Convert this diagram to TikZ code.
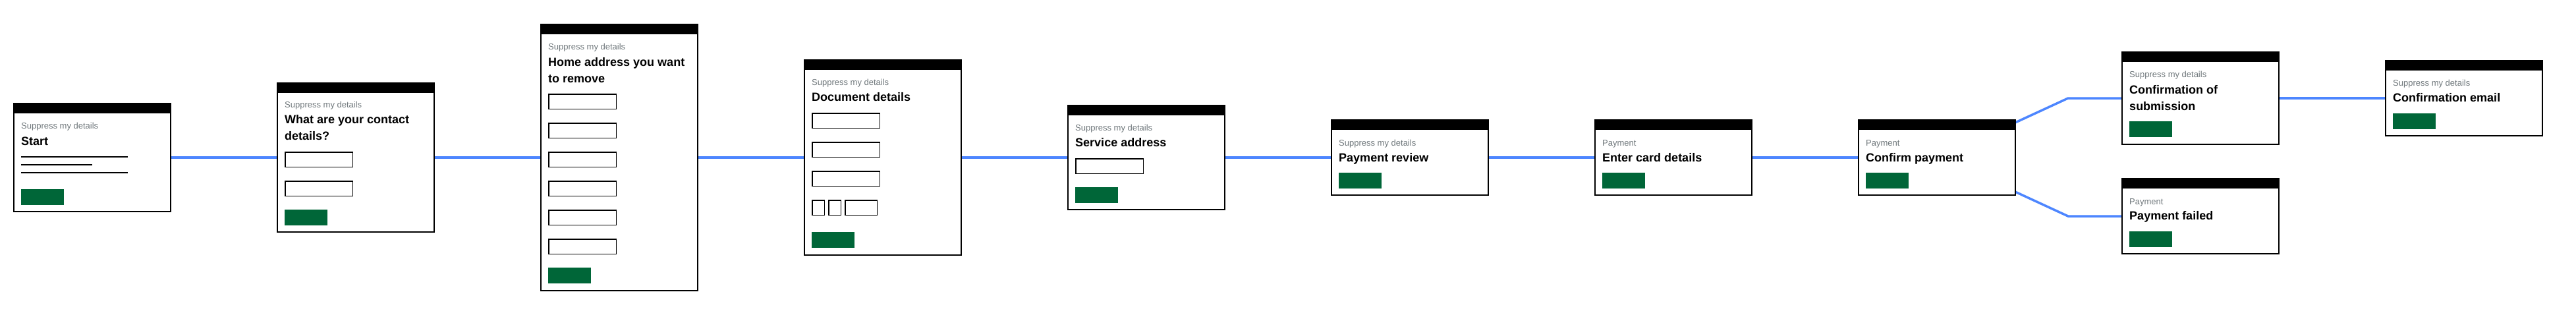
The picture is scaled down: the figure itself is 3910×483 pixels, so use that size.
\documentclass[tikz,border=0pt]{standalone}
\usepackage{fontspec}
\setmainfont{Liberation Sans}
\usetikzlibrary{backgrounds}
\definecolor{govgreen}{RGB}{0,102,56}
\definecolor{flowblue}{RGB}{77,134,255}
\definecolor{greytext}{RGB}{111,119,123}
% #1 name, #2 left x, #3 top y, #4 bottom y
\newcommand{\mkscreen}[4]{%
  \node[screen, minimum height={#4-#3-1.7}] (#1) at ({#2+120},{(#3+#4)/2}) {};
  \fill ({#2},{#3}) rectangle ({#2+240},{#3+16});
}
% #1 name, #2 x, #3 baseline, #4 text
\newcommand{\mkcat}[4]{\node[cat] (#1) at ({#2+12},#3) {#4};}
\newcommand{\mkttl}[4]{\node[ttl] (#1) at ({#2+12},#3) {#4};}
% #1 x, #2 top y
\newcommand{\mkfield}[2]{\draw[field] ({#1+12.75},{#2+0.75}) rectangle ({#1+115.25},{#2+23.25});}
\newcommand{\mkbtn}[2]{\fill[govgreen] ({#1+12},#2) rectangle ({#1+77},{#2+24});}
\begin{document}
\begin{tikzpicture}[x=1pt,y=-1pt,
  screen/.style={draw=black, line width=1.7pt, fill=white, minimum width=238.3pt, inner sep=0pt, outer sep=0pt},
  cat/.style={anchor=base west, inner sep=0pt, text=greytext, font=\fontsize{13}{15}\selectfont},
  ttl/.style={anchor=base west, inner sep=0pt, text=black, font=\bfseries\fontsize{18}{22}\selectfont},
  field/.style={draw=black, line width=1.5pt},
  conn/.style={draw=flowblue, line width=3.5pt}]
\useasboundingbox (0,0) rectangle (3910,483);

% Screen 1: Start
\mkscreen{s1}{20}{156}{322}
\mkcat{s1c}{20}{195}{Suppress my details}
\mkttl{s1t}{20}{220}{Start}
\draw[line width=1.7pt] (32,238) -- (194,238);
\draw[line width=1.7pt] (32,250) -- (140,250);
\draw[line width=1.7pt] (32,262) -- (194,262);
\mkbtn{20}{287}

% Screen 2: contact details
\mkscreen{s2}{420}{125}{353}
\mkcat{s2c}{420}{163}{Suppress my details}
\mkttl{s2t}{420}{187}{What are your contact}
\mkttl{s2u}{420}{212}{details?}
\mkfield{420}{230}
\mkfield{420}{274}
\mkbtn{420}{318}

% Screen 3: home address
\mkscreen{s3}{820}{36}{442}
\mkcat{s3c}{820}{75}{Suppress my details}
\mkttl{s3t}{820}{100}{Home address you want}
\mkttl{s3u}{820}{125}{to remove}
\foreach \k in {0,...,5} {\mkfield{820}{142+44*\k}}
\mkbtn{820}{406}

% Screen 4: document details
\mkscreen{s4}{1220}{90}{388}
\mkcat{s4c}{1220}{129}{Suppress my details}
\mkttl{s4t}{1220}{153}{Document details}
\mkfield{1220}{171}
\mkfield{1220}{215}
\mkfield{1220}{259}
\draw[field] (1232.75,303.75) rectangle (1251.25,326.25);
\draw[field] (1257.75,303.75) rectangle (1276.25,326.25);
\draw[field] (1282.75,303.75) rectangle (1331.25,326.25);
\mkbtn{1220}{352}

% Screen 5: service address
\mkscreen{s5}{1620}{159}{319}
\mkcat{s5c}{1620}{198}{Suppress my details}
\mkttl{s5t}{1620}{222}{Service address}
\mkfield{1620}{240}
\mkbtn{1620}{284}

% Screen 6: payment review
\mkscreen{s6}{2020}{181}{297}
\mkcat{s6c}{2020}{221}{Suppress my details}
\mkttl{s6t}{2020}{245}{Payment review}
\mkbtn{2020}{262}

% Screen 7: enter card details
\mkscreen{s7}{2420}{181}{297}
\mkcat{s7c}{2420}{221}{Payment}
\mkttl{s7t}{2420}{245}{Enter card details}
\mkbtn{2420}{262}

% Screen 8: confirm payment
\mkscreen{s8}{2820}{181}{297}
\mkcat{s8c}{2820}{221}{Payment}
\mkttl{s8t}{2820}{245}{Confirm payment}
\mkbtn{2820}{262}

% Screen 9: confirmation of submission
\mkscreen{s9}{3220}{78}{220}
\mkcat{s9c}{3220}{117}{Suppress my details}
\mkttl{s9t}{3220}{142}{Confirmation of}
\mkttl{s9u}{3220}{167}{submission}
\mkbtn{3220}{184}

% Screen 10: payment failed
\mkscreen{s10}{3220}{270}{386}
\mkcat{s10c}{3220}{310}{Payment}
\mkttl{s10t}{3220}{333}{Payment failed}
\mkbtn{3220}{351}

% Screen 11: confirmation email
\mkscreen{s11}{3620}{91}{207}
\mkcat{s11c}{3620}{130}{Suppress my details}
\mkttl{s11t}{3620}{154}{Confirmation email}
\mkbtn{3620}{172}

\coordinate (k1) at (3139,149);
\coordinate (k2) at (3139,328);

\begin{pgfonlayer}{background}
\fill[white] (0,0) rectangle (3910,483);
\draw[conn] (s1) -- (s2);
\draw[conn] (s2) -- (s3);
\draw[conn] (s3) -- (s4);
\draw[conn] (s4) -- (s5);
\draw[conn] (s5) -- (s6);
\draw[conn] (s6) -- (s7);
\draw[conn] (s7) -- (s8);
\draw[conn] ([yshift=-4pt]s8.north east) -- (k1) -- (s9.west);
\draw[conn] ([yshift=5pt]s8.south east) -- (k2) -- (s10.west);
\draw[conn] (s9) -- (s11);
\end{pgfonlayer}
\end{tikzpicture}
\end{document}
